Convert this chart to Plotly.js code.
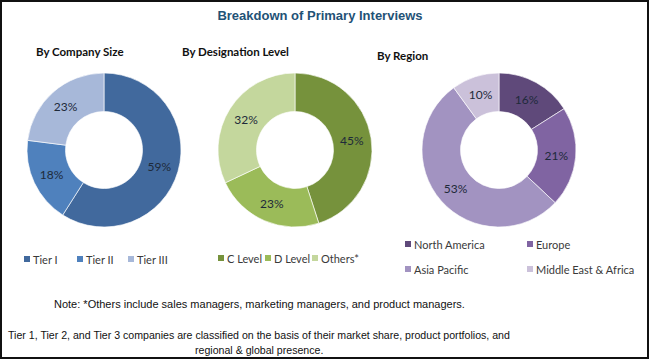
<!DOCTYPE html>
<html>
<head>
<meta charset="utf-8">
<script src="https://cdn.plot.ly/plotly-3.0.1.min.js"></script>
<style>html,body{margin:0;padding:0;background:#fff;} #chart{width:650px;height:360px;}</style>
</head>
<body>
<div id="chart"></div>
<script>
// ---- data ----
const chartTitle = 'Breakdown of Primary Interviews';
const companyTitle = 'By Company Size';
const companyLabels = ['Tier I', 'Tier II', 'Tier III'];
const companyValues = [59, 18, 23];
const designationTitle = 'By Designation Level';
const designationLabels = ['C Level', 'D Level', 'Others*'];
const designationValues = [45, 23, 32];
const regionTitle = 'By Region';
const regionLabels = ['North America', 'Europe', 'Asia Pacific', 'Middle East & Africa'];
const regionValues = [16, 21, 53, 10];
const noteLines = [
  'Note: *Others include sales managers, marketing managers, and product managers.',
  'Tier 1, Tier 2, and Tier 3 companies are classified on the basis of their market share, product portfolios, and',
  'regional & global presence.'
];

// ---- styles / layout ----
const W = 650, H = 360;
const companyColors = ['#41699D', '#4F81BD', '#A7B8D9'];
const designationColors = ['#76923C', '#9BBB59', '#C4D79D'];
const regionColors = ['#5F497A', '#8064A2', '#A293C1', '#CBC1DA'];
const uiFont = 'Lato, "Open Sans", sans-serif';
const narrowFont = '"Liberation Sans", Arial, sans-serif';

const px = x => x / W;
const py = y => 1 - y / H;

function pieDomain(cx, cy, r) {
  return {x: [px(cx - r), px(cx + r)], y: [py(cy + r), py(cy - r)]};
}

function pieTrace(labels, values, colors, domain) {
  return {
    type: 'pie', labels: labels, values: values, sort: false,
    direction: 'clockwise', rotation: 0, hole: 0.5,
    domain: domain, showlegend: false,
    marker: {colors: colors, line: {color: 'rgba(255,255,255,0.8)', width: 0.8}},
    texttemplate: '%{value}%', textposition: 'inside', insidetextorientation: 'horizontal',
    textfont: {family: uiFont, size: 12, color: '#1e2a3a'},
    hoverinfo: 'label+percent'
  };
}

const data = [
  pieTrace(companyLabels, companyValues, companyColors, pieDomain(104, 150, 77)),
  pieTrace(designationLabels, designationValues, designationColors, pieDomain(295, 150, 77)),
  pieTrace(regionLabels, regionValues, regionColors, pieDomain(499, 150, 77))
];

const shapes = [];
const annotations = [];

// legends (layout positions of each legend entry: marker left x, row center y)
const legendSpecs = [
  {labels: companyLabels, colors: companyColors, pos: [[24, 259], [77, 259], [128, 259]]},
  {labels: designationLabels, colors: designationColors, pos: [[218, 258], [265, 258], [312, 258]]},
  {labels: regionLabels, colors: regionColors, pos: [[405, 244], [527, 244], [405, 269], [527, 269]]}
];
const mk = 6;
legendSpecs.forEach(spec => {
  spec.labels.forEach((lab, i) => {
    const [mx, my] = spec.pos[i];
    shapes.push({type: 'rect', xref: 'paper', yref: 'paper',
      x0: px(mx), x1: px(mx + mk), y0: py(my + mk / 2), y1: py(my - mk / 2),
      fillcolor: spec.colors[i], line: {width: 0}});
    annotations.push({xref: 'paper', yref: 'paper', x: px(mx + mk + 1), y: py(my),
      xanchor: 'left', yanchor: 'middle', showarrow: false, text: lab,
      font: {family: uiFont, size: 11, color: '#3a3a3a'}});
  });
});

// subtitles
[[companyTitle, 80, 52], [designationTitle, 235, 52], [regionTitle, 402, 55]].forEach(([t, x, y]) => {
  annotations.push({xref: 'paper', yref: 'paper', x: px(x), y: py(y), xanchor: 'center', yanchor: 'middle',
    showarrow: false, text: '<b>' + t + '</b>', font: {family: uiFont, size: 11.5, color: '#111'}});
});

// notes
[[noteLines[0], 304, 11], [noteLines[1], 335, 10.6], [noteLines[2], 350, 10.6]].forEach(([t, y, s]) => {
  annotations.push({xref: 'paper', yref: 'paper', x: px(259), y: py(y), xanchor: 'center', yanchor: 'middle',
    showarrow: false, text: t, font: {family: narrowFont, size: s, color: '#111'}});
});

// border
shapes.push({type: 'rect', xref: 'paper', yref: 'paper', x0: px(1), x1: px(648), y0: py(358), y1: py(1),
  line: {color: '#111', width: 2}, fillcolor: 'rgba(0,0,0,0)'});

const layout = {
  width: W, height: H,
  margin: {l: 0, r: 0, t: 0, b: 0, autoexpand: false},
  paper_bgcolor: '#fff', plot_bgcolor: '#fff',
  title: {text: '<b>' + chartTitle + '</b>', x: px(320), xanchor: 'center', y: py(15), yanchor: 'middle',
    font: {family: narrowFont, size: 13, color: '#1F5276'}},
  showlegend: false,
  shapes: shapes,
  annotations: annotations
};

Plotly.newPlot('chart', data, layout, {displayModeBar: false, staticPlot: true});
</script>
</body>
</html>
